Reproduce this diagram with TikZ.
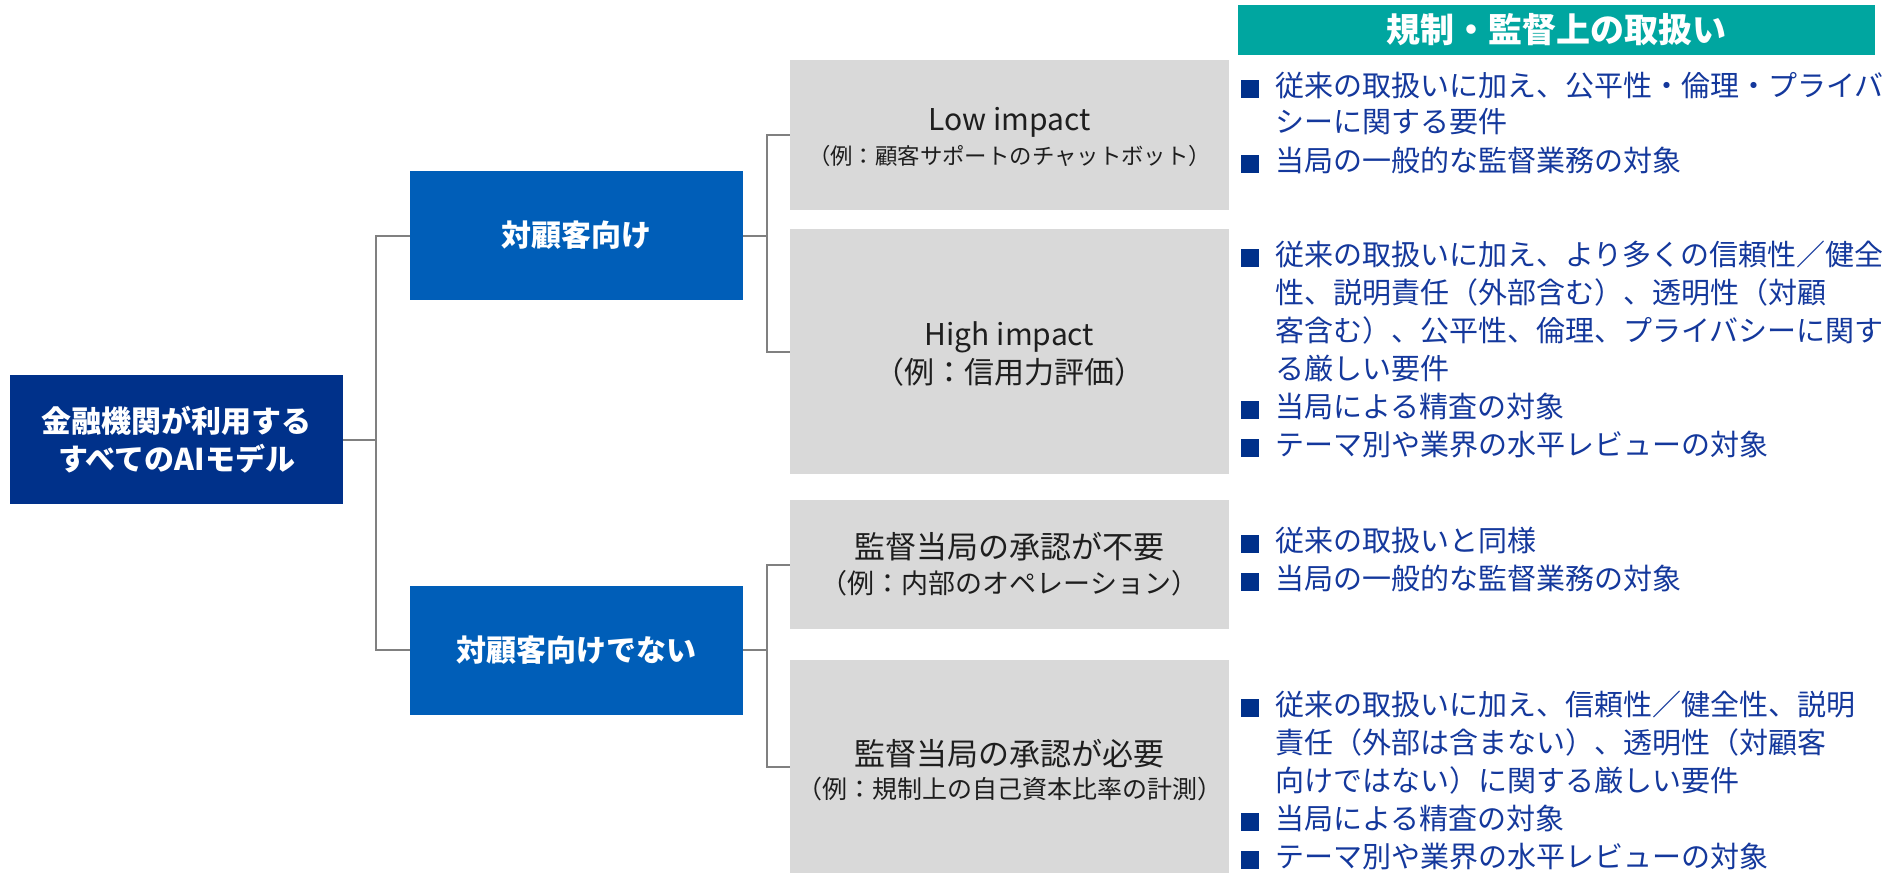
\documentclass[tikz,border=0pt]{standalone}
\usepackage{fontspec}
\setmainfont{Noto Sans CJK JP}
\definecolor{teal1}{HTML}{00A6A0}
\definecolor{blue1}{HTML}{005EB8}
\definecolor{navy1}{HTML}{00318A}
\definecolor{gray1}{HTML}{D9D9D9}
\definecolor{line1}{HTML}{808080}
\definecolor{bultext}{HTML}{14389C}
\definecolor{bulsq}{HTML}{00308A}
\definecolor{dark1}{HTML}{1E1E1E}
\newcommand\bsq{\textcolor{bulsq}{\rule[-0.75pt]{9pt}{9pt}}\hspace{8pt}}
\newcommand\bind{\hspace{17pt}}
\begin{document}
\begin{tikzpicture}[x=0.5pt,y=-0.5pt,
  box/.style={inner sep=0pt, outer sep=0pt, align=center},
  bluebox/.style={box, fill=blue1, text=white, minimum width=166.5pt, minimum height=64.5pt,
    font=\bfseries\fontsize{15}{19}\selectfont},
  rootbox/.style={box, fill=navy1, text=white, minimum width=166.5pt, minimum height=64.5pt,
    font=\bfseries\fontsize{15}{19}\selectfont},
  graybox/.style={box, fill=gray1, minimum width=219.5pt},
  glabel/.style={inner sep=0pt, text=dark1},
  bullets/.style={inner sep=0pt, anchor=base west, text=bultext, font=\fontsize{14.5}{19}\selectfont},
  conn/.style={draw=line1, line width=1pt}
]
\useasboundingbox (0,0) rectangle (1893,873);

% header
\node[box, fill=teal1, text=white, minimum width=318.5pt, minimum height=25pt,
  font=\bfseries\fontsize{17}{20}\selectfont] (hdr) at (1556.5,30) {規制・監督上の取扱い};

% left boxes
\node[rootbox] (root) at (176.5,439.5) {金融機関が利用する\\すべてのAIモデル};
\node[bluebox] (cf) at (576.5,235.5) {対顧客向け};
\node[bluebox] (ncf) at (576.5,650) {対顧客向けでない};

% gray boxes
\node[graybox, minimum height=75pt] (g1) at (1009.5,135) {};
\node[graybox, minimum height=122.5pt] (g2) at (1009.5,351.5) {};
\node[graybox, minimum height=64.5pt] (g3) at (1009.5,564.5) {};
\node[graybox, minimum height=106.5pt] (g4) at (1009.5,766.5) {};

% gray box labels
\node[glabel, font=\fontsize{15}{18}\selectfont] (g1a) at (1009.5,122.5) {Low impact};
\node[glabel, font=\fontsize{11.2}{13}\selectfont] (g1b) at (1009.5,156) {（例：顧客サポートのチャットボット）};
\node[glabel, font=\fontsize{15}{18}\selectfont] (g2a) at (1009.5,337.5) {High impact};
\node[glabel, font=\fontsize{15}{18}\selectfont] (g2b) at (1009.5,372) {（例：信用力評価）};
\node[glabel, font=\fontsize{15.5}{18}\selectfont] (g3a) at (1009.5,547) {監督当局の承認が不要};
\node[glabel, font=\fontsize{13.5}{15}\selectfont] (g3b) at (1009.5,583) {（例：内部のオペレーション）};
\node[glabel, font=\fontsize{15.5}{18}\selectfont] (g4a) at (1009.5,754) {監督当局の承認が必要};
\node[glabel, font=\fontsize{12.5}{14}\selectfont] (g4b) at (1009.5,789) {（例：規制上の自己資本比率の計測）};

% bullets
\node[bullets, font=\fontsize{14.5}{18}\selectfont] (b1) at (1241,96) {\vtop{%
  \hbox{\bsq 従来の取扱いに加え、公平性・倫理・プライバ}%
  \hbox{\bind シーに関する要件}}};
\node[bullets] (b1c) at (1241,171) {\bsq 当局の一般的な監督業務の対象};
\node[bullets] (b2) at (1241,265) {\vtop{%
  \hbox{\bsq 従来の取扱いに加え、より多くの信頼性／健全}%
  \hbox{\bind 性、説明責任（外部含む）、透明性（対顧}%
  \hbox{\bind 客含む）、公平性、倫理、プライバシーに関す}%
  \hbox{\bind る厳しい要件}%
  \hbox{\bsq 当局による精査の対象}%
  \hbox{\bsq テーマ別や業界の水平レビューの対象}}};
\node[bullets] (b3) at (1241,551) {\vtop{%
  \hbox{\bsq 従来の取扱いと同様}%
  \hbox{\bsq 当局の一般的な監督業務の対象}}};
\node[bullets] (b4) at (1241,715) {\vtop{%
  \hbox{\bsq 従来の取扱いに加え、信頼性／健全性、説明}%
  \hbox{\bind 責任（外部は含まない）、透明性（対顧客}%
  \hbox{\bind 向けではない）に関する厳しい要件}%
  \hbox{\bsq 当局による精査の対象}%
  \hbox{\bsq テーマ別や業界の水平レビューの対象}}};

% connectors
\draw[conn] (root.east) -- ++(33,0) |- (cf.west);
\draw[conn] (root.east) -- ++(33,0) |- (ncf.west);
\draw[conn] (cf.east) -- ++(24,0) |- (g1.west);
\draw[conn] (cf.east) -- ++(24,0) |- (g2.west);
\draw[conn] (ncf.east) -- ++(24,0) |- (g3.west);
\draw[conn] (ncf.east) -- ++(24,0) |- (g4.west);
\end{tikzpicture}
\end{document}
